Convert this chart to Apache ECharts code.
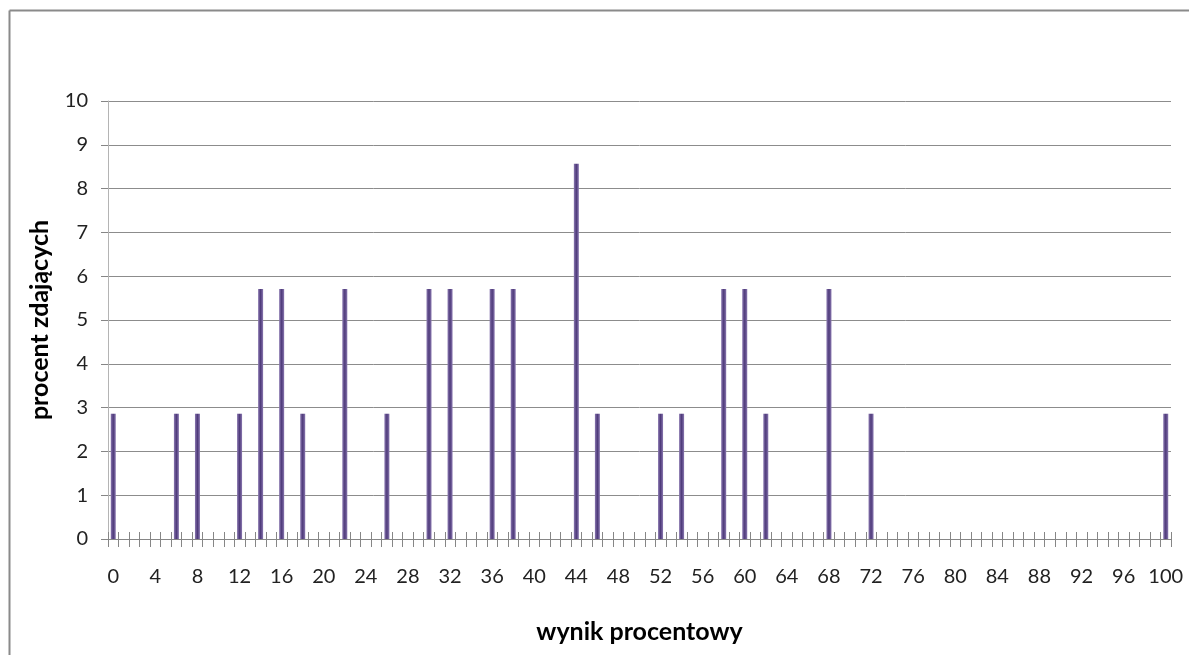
<!DOCTYPE html>
<html>
<head>
<meta charset="utf-8">
<script src="https://cdn.jsdelivr.net/npm/echarts@6/dist/echarts.min.js"></script>
<style>html,body{margin:0;padding:0;background:#fff}#c{width:1189px;height:655px}</style>
</head>
<body>
<div id="c"></div>
<script>
// categories: percentage scores 0..100
var categories = [];
for (var i = 0; i <= 100; i++) categories.push(String(i));
// scores that occurred and percent of students with that score
var scores = [0, 6, 8, 12, 14, 16, 18, 22, 26, 30, 32, 36, 38, 44, 46, 52, 54, 58, 60, 62, 68, 72, 100];
var percents = [2.86, 2.86, 2.86, 2.86, 5.71, 5.71, 2.86, 5.71, 2.86, 5.71, 5.71, 5.71, 5.71, 8.57, 2.86, 2.86, 2.86, 5.71, 5.71, 2.86, 5.71, 2.86, 2.86];
var yTicks = [0, 1, 2, 3, 4, 5, 6, 7, 8, 9, 10];

var values = categories.map(function (c) {
  var k = scores.indexOf(Number(c));
  return k >= 0 ? percents[k] : 0;
});

var chart = echarts.init(document.getElementById('c'));
var fontFam = 'Lato, "Open Sans", sans-serif';
chart.setOption({
  animation: false,
  backgroundColor: '#fff',
  grid: { left: 108, right: 18, top: 101, bottom: 116, containLabel: false },
  graphic: [
    { type: 'line', shape: { x1: 9.5, y1: 10.5, x2: 1189, y2: 10.5 }, style: { stroke: '#8a8a8a', lineWidth: 2 }, silent: true },
    { type: 'line', shape: { x1: 9.5, y1: 10.5, x2: 9.5, y2: 655 }, style: { stroke: '#8a8a8a', lineWidth: 2 }, silent: true }
  ],
  xAxis: [{
    type: 'category',
    data: categories,
    boundaryGap: true,
    name: 'wynik procentowy',
    nameLocation: 'middle',
    nameGap: 80,
    nameTextStyle: { fontFamily: fontFam, fontSize: 25, fontWeight: 'bold', color: '#000' },
    axisLine: { show: true, lineStyle: { color: '#868686', width: 1 } },
    axisTick: { show: true, interval: 0, length: 8, inside: false, lineStyle: { color: '#868686' } },
    axisLabel: { interval: 3, margin: 28, fontFamily: fontFam, fontSize: 20, color: '#222' },
    splitLine: { show: false }
  }, {
    type: 'category',
    data: categories,
    boundaryGap: true,
    position: 'bottom',
    axisLine: { show: false },
    axisTick: { show: true, interval: 0, length: 7, inside: true, lineStyle: { color: '#868686' } },
    axisLabel: { show: false },
    splitLine: { show: false }
  }],
  yAxis: {
    type: 'value',
    min: yTicks[0],
    max: yTicks[yTicks.length - 1],
    interval: 1,
    name: 'procent zdających',
    nameLocation: 'middle',
    nameGap: 56,
    nameTextStyle: { fontFamily: fontFam, fontSize: 25, fontWeight: 'bold', color: '#000' },
    axisLine: { show: true, lineStyle: { color: '#b4b4b4', width: 1 } },
    axisTick: { show: true, length: 7, lineStyle: { color: '#868686' } },
    axisLabel: { margin: 20, fontFamily: fontFam, fontSize: 20, color: '#222' },
    splitLine: { show: true, lineStyle: { color: '#8c8c8c', width: 1 } }
  },
  series: [{
    type: 'bar',
    data: values,
    barWidth: 5,
    itemStyle: {
      color: new echarts.graphic.LinearGradient(0, 0, 1, 0, [
        { offset: 0, color: '#8a78b0' },
        { offset: 0.5, color: '#4e3a7a' },
        { offset: 1, color: '#8a78b0' }
      ])
    }
  }]
});
</script>
</body>
</html>
